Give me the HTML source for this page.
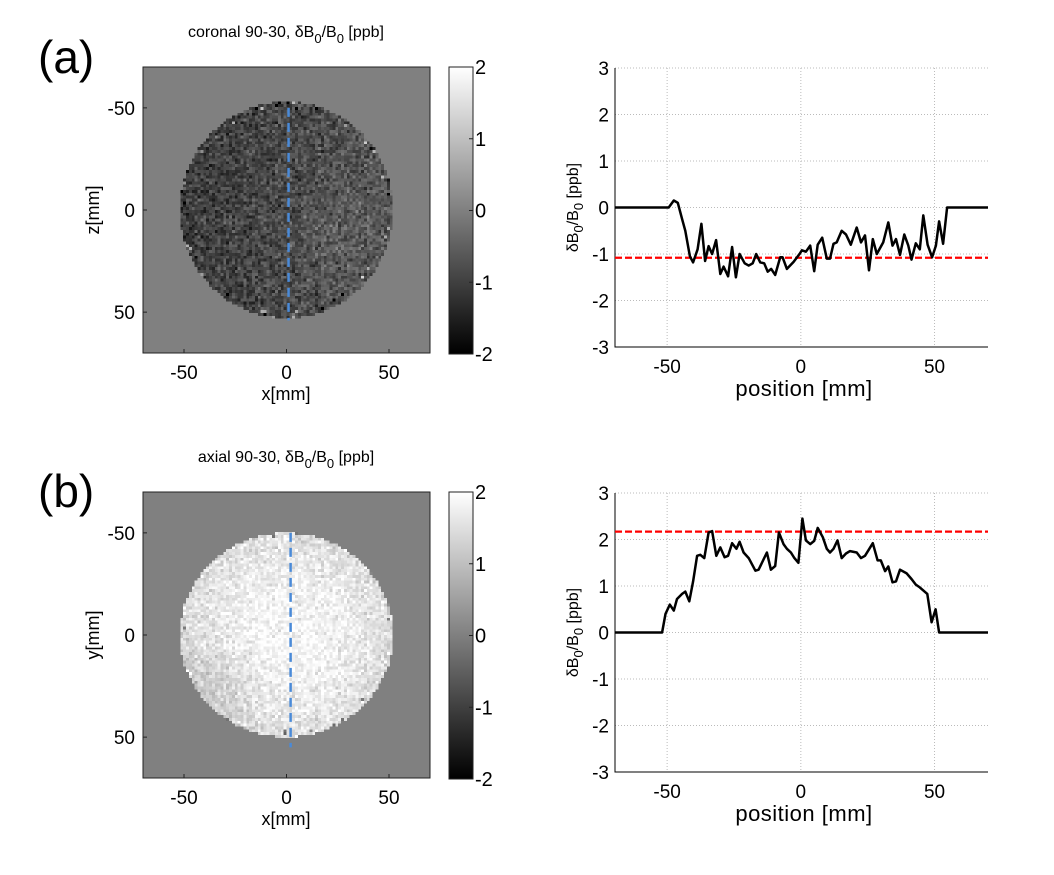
<!DOCTYPE html>
<html><head><meta charset="utf-8">
<style>
body{margin:0;background:#fff;width:1054px;height:875px;overflow:hidden;position:relative;font-family:"Liberation Sans",sans-serif}
canvas{position:absolute;image-rendering:pixelated}
svg{position:absolute;left:0;top:0}
</style></head><body>
<canvas id="img-a" width="100" height="100" style="left:143px;top:67px;width:287px;height:286px"></canvas>
<canvas id="img-b" width="100" height="100" style="left:143px;top:492px;width:287px;height:286px"></canvas>
<svg id="svg" width="1054" height="875">
<defs><linearGradient id="cbg" x1="0" y1="1" x2="0" y2="0"><stop offset="0" stop-color="#000"/><stop offset="1" stop-color="#fff"/></linearGradient></defs>
</svg>
<script>
// ---- profile data (a) coronal ----
const posA=[-69.5,-49.4,-47.5,-46,-44.4,-43.2,-41.5,-40.3,-38.6,-37.2,-35.8,-34.5,-33.2,-31.7,-30.1,-28.9,-27.2,-25.7,-24.3,-22.9,-21,-19.5,-18,-16.7,-15.2,-13.7,-12.4,-11.1,-9.6,-7.7,-6.8,-5.2,-2.7,-0.5,0.4,1.9,3.5,5,6.3,8,9.7,10.9,12.2,13.4,15.3,16.9,18.7,20.9,22.5,24,25.5,26.9,28.4,30.8,32.7,34.3,35.6,37.1,38.7,40.2,41.4,43,44.5,45.8,47.4,49.1,50.5,51.7,53.2,54.7,70];
const valA=[0,0,0.15,0.1,-0.25,-0.5,-1.05,-1.18,-0.9,-0.35,-1.15,-0.83,-1.0,-0.7,-1.43,-1.27,-1.48,-0.85,-1.5,-1.0,-1.2,-1.25,-1.2,-1.0,-1.18,-1.2,-1.38,-1.32,-1.45,-1.07,-1.07,-1.32,-1.17,-1.0,-0.92,-0.95,-0.82,-1.37,-0.8,-0.65,-1.1,-1.1,-0.78,-0.75,-0.5,-0.58,-0.8,-0.43,-0.75,-0.6,-1.35,-0.68,-1.0,-0.75,-0.32,-0.82,-0.68,-1.02,-0.58,-0.82,-1.12,-0.77,-0.9,-0.17,-0.8,-1.07,-0.82,-0.3,-0.78,0,0];
const refA=-1.08;
// ---- profile data (b) axial ----
const posB=[-69.5,-51.9,-50.6,-49,-47.5,-46.3,-44.4,-43.2,-41.7,-40.3,-38.8,-37.6,-36.1,-34.5,-33.2,-31.6,-30.1,-28.5,-27.2,-25.7,-24.1,-22.9,-21.4,-19.5,-17,-15.8,-12.7,-11.2,-9.6,-8.2,-6.5,-5.2,-3.7,-2.4,-0.9,0.6,1.9,3.5,5,6.3,8.2,9.7,10.9,12.2,13.7,15.3,16.9,18.4,20.9,22.5,24,26.9,28.7,29.9,31.5,32.7,34.3,35.6,37.1,39.6,41.4,43,44.5,47.3,48.9,50.4,51.7,70];
const valB=[0,0,0.4,0.6,0.47,0.72,0.83,0.88,0.67,1.1,1.65,1.67,1.6,2.15,2.18,1.65,1.83,1.62,1.65,1.92,1.8,1.95,1.72,1.6,1.33,1.35,1.72,1.35,1.43,2.15,1.9,1.8,1.72,1.6,1.5,2.45,1.98,1.9,1.97,2.25,2.05,1.8,1.72,1.8,1.98,1.6,1.7,1.75,1.72,1.6,1.65,1.92,1.55,1.55,1.32,1.42,1.08,1.1,1.35,1.27,1.15,1.03,0.97,0.83,0.22,0.5,0,0];
const refB=2.17;
const yTicks=[3,2,1,0,-1,-2,-3];
const xTicks=[-50,0,50];
const cbTicks=[2,1,0,-1,-2];

const NS='http://www.w3.org/2000/svg';
const svg=document.getElementById('svg');
function el(tag,attrs,text,parent){const e=document.createElementNS(NS,tag);for(const k in attrs)e.setAttribute(k,attrs[k]);if(text!=null)e.textContent=text;(parent||svg).appendChild(e);return e;}

function linePlot(top,pos,val,ref,name){
  const L=615,R=988,x0=-69.5,x1=70;
  const yTop=top,yBot=top+279;
  const sx=v=>L+(v-x0)/(x1-x0)*(R-L);
  const sy=v=>yTop+(3-v)/6*(yBot-yTop);
  const g=el('g',{});
  
  
  for(const t of yTicks){
    const gl=el('line',{x1:L,x2:R,y1:sy(t),y2:sy(t),stroke:'#bbb','stroke-dasharray':'1,2','stroke-width':1},null,g);
    
    
    const tl=el('text',{x:L-6,y:sy(t)+7,'text-anchor':'end','font-size':19},String(t),g);
    
    
  }
  for(const t of xTicks){
    const gl=el('line',{x1:sx(t),x2:sx(t),y1:yTop,y2:yBot,stroke:'#bbb','stroke-dasharray':'1,2','stroke-width':1},null,g);
    
    
    const tl=el('text',{x:sx(t),y:yBot+26,'text-anchor':'middle','font-size':19},String(t),g);
    
    
  }
  const ax=el('path',{d:`M${L},${yTop} V${yBot} H${R}`,fill:'none',stroke:'#000','stroke-width':1},null,g);
  
  
  const rl=el('line',{x1:L,x2:R,y1:sy(ref),y2:sy(ref),stroke:'#f00','stroke-width':2.2,'stroke-dasharray':'7,3'},null,g);
  
  
  let d='';pos.forEach((p,i)=>{d+=(i?'L':'M')+sx(p).toFixed(1)+','+sy(val[i]).toFixed(1)});
  const pl=el('path',{d,fill:'none',stroke:'#000','stroke-width':2.5,'stroke-linejoin':'round'},null,g);
  
  
  const yl=el('text',{transform:`translate(578,${(yTop+yBot)/2}) rotate(-90)`,'text-anchor':'middle','font-size':16},null,g);
  
  
  yl.innerHTML='δB<tspan dy="5" font-size="13">0</tspan><tspan dy="-5">/B</tspan><tspan dy="5" font-size="13">0</tspan><tspan dy="-5"> [ppb]</tspan>';
  const xl=el('text',{x:804,y:yBot+49,'text-anchor':'middle','font-size':22,'letter-spacing':'0.5'},'position [mm]',g);
  
  
}
linePlot(68,posA,valA,refA,'coronal');
linePlot(493,posB,valB,refB,'axial');

function imagePanel(top,title,ylab,name,lineX,lineY0,lineY1){
  const L=143,R=430,B=top+286;
  const sx=v=>L+(v+70)/140*(R-L);
  const sy=v=>top+(v+70)/140*(B-top);
  const g=el('g',{});
  
  
  el('rect',{x:L,y:top,width:R-L,height:B-top,fill:'none',stroke:'#222'},null,g);
  const tt=el('text',{x:286,y:top-30,'text-anchor':'middle','font-size':16},null,g);
  
  
  tt.innerHTML=title+', δB<tspan dy="6" font-size="13">0</tspan><tspan dy="-6">/B</tspan><tspan dy="6" font-size="13">0</tspan><tspan dy="-6"> [ppb]</tspan>';
  for(const t of xTicks){
    el('line',{x1:sx(t),x2:sx(t),y1:B,y2:B-4,stroke:'#222'},null,g);
    const a=el('text',{x:sx(t),y:B+26,'text-anchor':'middle','font-size':19},String(t),g);
    
    
    el('line',{x1:L,x2:L+4,y1:sy(t),y2:sy(t),stroke:'#222'},null,g);
    const b=el('text',{x:L-8,y:sy(t)+7,'text-anchor':'end','font-size':19},String(t),g);
    
    
  }
  const xl=el('text',{x:286,y:B+47,'text-anchor':'middle','font-size':18},'x[mm]',g);
  
  
  const yl=el('text',{transform:`translate(99,${(top+B)/2}) rotate(-90)`,'text-anchor':'middle','font-size':18},ylab,g);
  
  
  const pl=el('line',{x1:sx(lineX),x2:sx(lineX),y1:sy(lineY0),y2:sy(lineY1),stroke:'#4a8ad8','stroke-width':2.5,'stroke-dasharray':'9,6'},null,g);
  
  
  const cb=el('rect',{x:449,y:top,width:24,height:B-top+1,fill:'url(#cbg)',stroke:'#222'},null,g);
  
  
  cbTicks.forEach(t=>{
    const y=top+(2-t)/4*(B-top+1);
    el('line',{x1:469,x2:473,y1:y,y2:y,stroke:'#222'},null,g);
    const c=el('text',{x:475,y:y+7,'font-size':20},String(t),g);
    
    
  });
}
imagePanel(67,'coronal 90-30','z[mm]','coronal',1,-50,54);
imagePanel(492,'axial 90-30','y[mm]','axial',2,-50,55);

const la=el('text',{x:38,y:73,'font-size':46},'(a)');


const lb=el('text',{x:38,y:507,'font-size':46},'(b)');



// heatmap texture (visual noise)
function hash(i,j,s){let h=Math.sin(i*127.1+j*311.7+s*74.7)*43758.5453;return h-Math.floor(h);}
function drawMap(id,rx,ry,base,amp){
  const c=document.getElementById(id),ctx=c.getContext('2d');
  const im=ctx.createImageData(100,100);
  for(let j=0;j<100;j++)for(let i=0;i<100;i++){
    const x=-70+(i+0.5)*1.4,y=-70+(j+0.5)*1.4;
    let v=0;
    const r=(x*x)/(rx*rx)+(y*y)/(ry*ry);
    if(r<=1){
      const n=(hash(i,j,1)+hash(i,j,2)+hash(i,j,3)-1.5)*amp;
      v=base(x,y)+n;
      if(r>0.88&&hash(i,j,4)>0.93)v+=(hash(i,j,5)>0.4?1.6:-1.6);
    }
    const g=Math.max(0,Math.min(255,(v+2)/4*255));
    const k=(j*100+i)*4;im.data[k]=im.data[k+1]=im.data[k+2]=g;im.data[k+3]=255;
  }
  ctx.putImageData(im,0,0);
}
drawMap('img-a',52,53,(x,y)=>-0.85+0.004*x+0.2*Math.exp(-((x-25)*(x-25)+(y-10)*(y-10))/500),0.6);
drawMap('img-b',52,50,(x,y)=>1.9-0.00018*(x*x+y*y)-0.35*Math.exp(-((x+35)*(x+35)+(y-25)*(y-25))/400),0.45);
</script>
</body></html>
